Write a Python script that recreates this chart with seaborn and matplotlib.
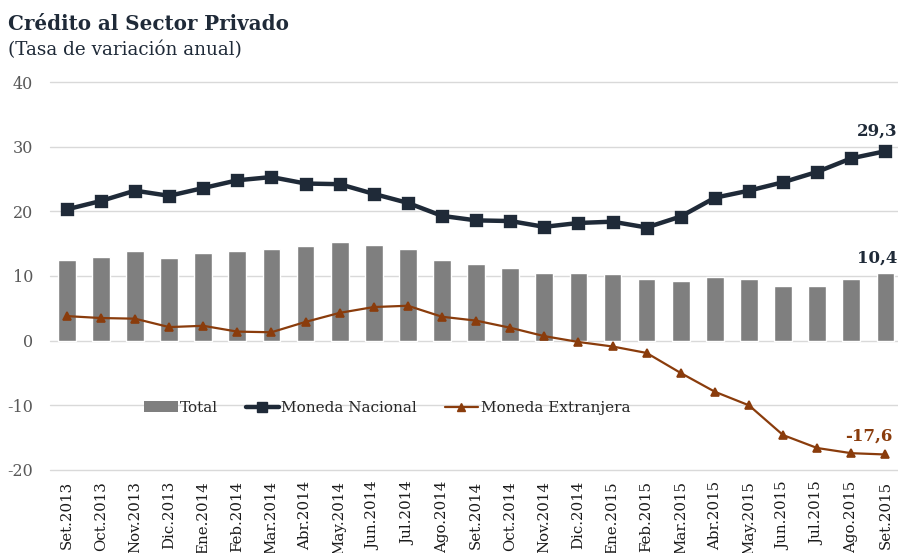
import matplotlib
matplotlib.use("Agg")
import matplotlib.pyplot as plt
import seaborn as sns
import pandas as pd
from matplotlib.lines import Line2D
from matplotlib.patches import Patch

meses = ["Set.2013", "Oct.2013", "Nov.2013", "Dic.2013", "Ene.2014", "Feb.2014",
         "Mar.2014", "Abr.2014", "May.2014", "Jun.2014", "Jul.2014", "Ago.2014",
         "Set.2014", "Oct.2014", "Nov.2014", "Dic.2014", "Ene.2015", "Feb.2015",
         "Mar.2015", "Abr.2015", "May.2015", "Jun.2015", "Jul.2015", "Ago.2015",
         "Set.2015"]
total = [12.5, 13.0, 13.9, 12.8, 13.6, 13.9, 14.2, 14.6, 15.2, 14.8, 14.2, 12.4,
         11.9, 11.3, 10.4, 10.4, 10.3, 9.5, 9.3, 9.8, 9.6, 8.4, 8.5, 9.6, 10.4]
moneda_nacional = [20.3, 21.6, 23.2, 22.4, 23.6, 24.8, 25.3, 24.3, 24.2, 22.7, 21.3, 19.3,
                   18.6, 18.5, 17.6, 18.2, 18.4, 17.5, 19.2, 22.1, 23.2, 24.5, 26.1, 28.2, 29.3]
moneda_extranjera = [3.8, 3.5, 3.4, 2.1, 2.3, 1.4, 1.3, 2.9, 4.3, 5.2, 5.4, 3.7,
                     3.1, 2.0, 0.7, -0.2, -0.9, -1.9, -5.0, -7.9, -10.0, -14.6, -16.6, -17.4, -17.6]
yticks = [-20, -10, 0, 10, 20, 30, 40]

df = pd.DataFrame({"mes": meses, "total": total, "mn": moneda_nacional, "me": moneda_extranjera})

C_BAR = "#7f7f7f"
C_MN = "#1f2a38"
C_ME = "#8a3c0c"
SERIF = ["DejaVu Serif"]

sns.set_theme(style="white")
plt.rcParams["font.family"] = SERIF

W, H = 898, 553
fig = plt.figure(figsize=(W / 100, H / 100), dpi=100)
left_px, right_px, top_px, bot_px = 49.7, 898, 82, 470
ax = fig.add_axes([left_px / W, 1 - bot_px / H, (right_px - left_px) / W, (bot_px - top_px) / H])

sns.barplot(data=df, x="mes", y="total", color=C_BAR, saturation=1, width=0.52,
            order=meses, ax=ax, zorder=2)
sns.pointplot(data=df, x="mes", y="mn", order=meses, color=C_MN, marker="s",
              markersize=6.5, linewidth=3.2, errorbar=None, ax=ax)
sns.pointplot(data=df, x="mes", y="me", order=meses, color=C_ME, marker="^",
              markersize=6, linewidth=1.6, errorbar=None, ax=ax)

ax.set_ylim(-20, 40)
ax.set_xlim(-0.5, -0.5 + (right_px - left_px) / 34.11)
ax.set_yticks(yticks)
ax.set_yticklabels([str(v) for v in yticks])
ax.yaxis.grid(True, color="#d9d9d9", linewidth=1.0, zorder=0)
for gl in ax.get_ygridlines():
    gl.set_clip_on(False)
ax.set_axisbelow(True)
for s in ax.spines.values():
    s.set_visible(False)
ax.set_xlabel("")
ax.set_ylabel("")
ax.tick_params(axis="y", length=0, pad=12, labelsize=11.5, labelcolor="#595959")
ax.tick_params(axis="x", length=0, pad=8, labelsize=10.8, labelcolor="#1a1a1a")
plt.setp(ax.get_xticklabels(), rotation=90)

# annotations
ax.annotate("29,3", (24, moneda_nacional[-1]), xytext=(-6, 8), textcoords="offset points",
            ha="center", va="bottom", fontsize=12, fontweight="bold", color=C_MN)
ax.annotate("10,4", (24, total[-1]), xytext=(-6, 5), textcoords="offset points",
            ha="center", va="bottom", fontsize=12, fontweight="bold", color=C_MN)
ax.annotate("-17,6", (24, moneda_extranjera[-1]), xytext=(-12, 7), textcoords="offset points",
            ha="center", va="bottom", fontsize=12, fontweight="bold", color=C_ME)

handles = [
    Patch(facecolor=C_BAR, edgecolor="none"),
    Line2D([], [], color=C_MN, linewidth=3.2, marker="s", markersize=6.5),
    Line2D([], [], color=C_ME, linewidth=1.6, marker="^", markersize=6),
]
ax.legend(handles, ["Total", "Moneda Nacional", "Moneda Extranjera"], ncol=3,
          frameon=False, loc="center left", bbox_to_anchor=(144 / W, 1 - 408 / H),
          bbox_transform=fig.transFigure, fontsize=11, handlelength=2.2,
          handletextpad=0.15, columnspacing=1.8, borderaxespad=0, borderpad=0)

fig.text(8 / W, 1 - 24 / H, "Crédito al Sector Privado", fontsize=14.3, fontweight="bold",
         color="#1f2a38", va="center", ha="left")
fig.text(8 / W, 1 - 50 / H, "(Tasa de variación anual)", fontsize=13.2,
         color="#1f2a38", va="center", ha="left")

fig.savefig("out.png", dpi=100)
